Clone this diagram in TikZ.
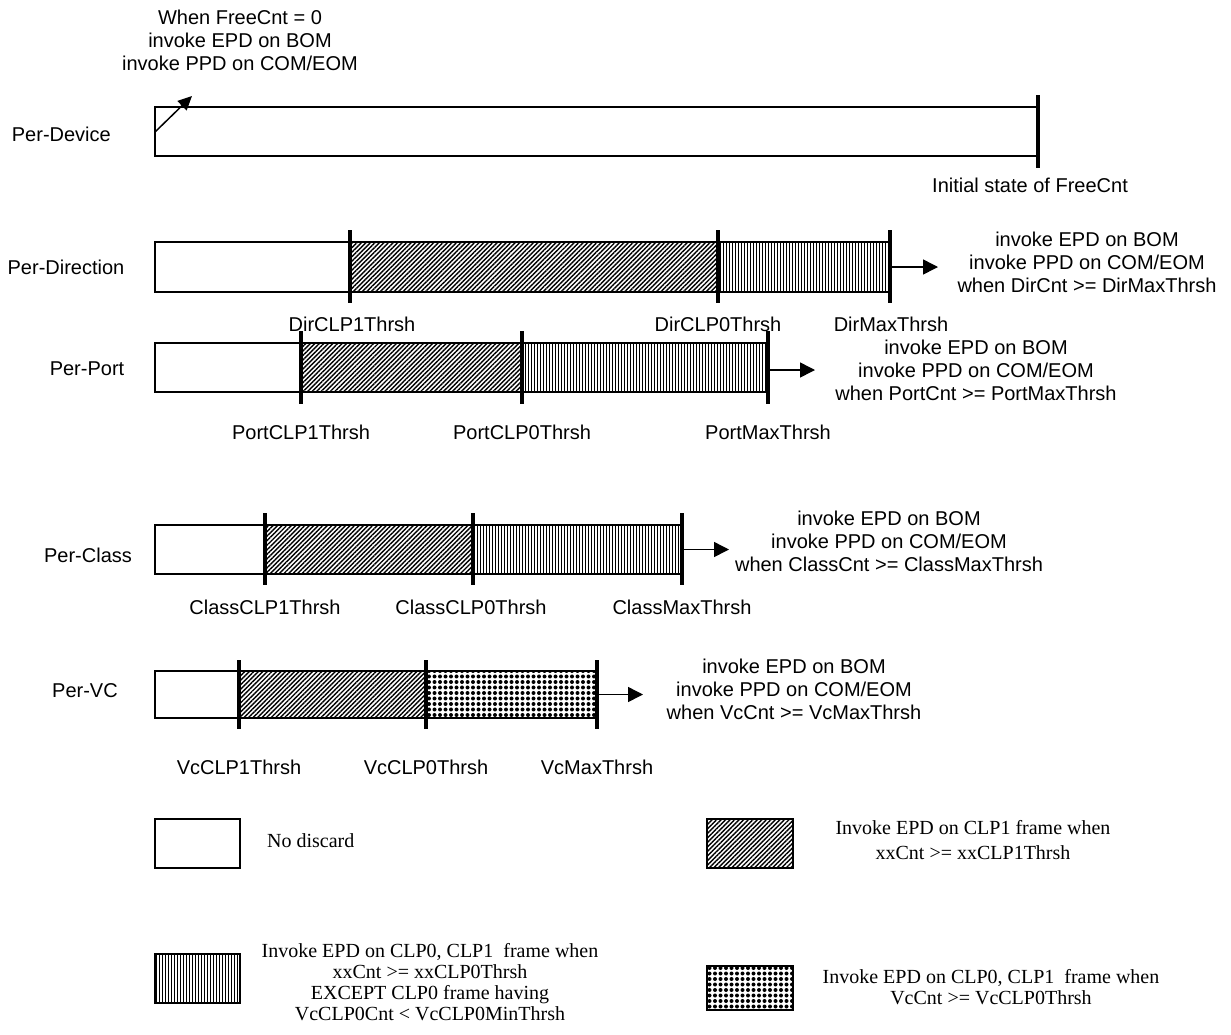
\documentclass[tikz,border=0pt]{standalone}
\usepackage{fontspec}
\setmainfont{Liberation Serif}
\newfontfamily\arialf{Liberation Sans}
\usetikzlibrary{patterns.meta,arrows.meta}
\begin{document}
\begin{tikzpicture}[x=1pt,y=-1pt,
  lbl/.style={font=\arialf\fontsize{20}{23}\selectfont, inner sep=0pt},
  note/.style={lbl, align=center, anchor=north},
  leg/.style={font=\fontsize{20}{21}\selectfont, inner sep=0pt, align=center, anchor=north},
  seg/.style={draw, line width=1.4pt},
  plain/.style={seg, fill=white},
  diag/.style={seg, pattern={Lines[angle=45,distance=3.2pt,line width=1.4pt]}},
  vert/.style={seg, pattern={Lines[angle=90,distance=3pt,line width=1pt]}},
  dotf/.style={seg, pattern={Dots[distance=5.5pt,radius=2pt]}},
  tick/.style={line width=4pt},
  arr/.style={line width=1.5pt, -{Triangle[length=15pt,width=15pt]}}
]
\fill[white] (0,0) rectangle (1231,1034);
\useasboundingbox (0,0) rectangle (1231,1034);

% ---------- Per-Device ----------
\node[note] (topnote) at (240,9.7) {When FreeCnt = 0\\invoke EPD on BOM\\invoke PPD on COM/EOM};
\node[lbl, anchor=base east] (pdev) at (111,141) {Per-Device};
\path[plain] (155,107) rectangle (1038,156);
\draw[tick] (1038,95) -- (1038,168);
\coordinate (devA) at (155,132);
\coordinate (devB) at (192,96);
\draw[arr, -{Triangle[length=14pt,width=13pt]}] (devA) -- (devB);
\node[lbl, anchor=base] (init) at (1030,192) {Initial state of FreeCnt};

% ---------- Per-Direction ----------
\node[lbl, anchor=base] (pdir) at (66,274) {Per-Direction};
\path[plain] (155,242) rectangle (350,292);
\path[diag] (350,242) rectangle (718,292);
\path[vert] (718,242) rectangle (890,292);
\foreach \x in {350,718,890} \draw[tick] (\x,230) -- (\x,303);
\node[lbl, anchor=base] (dir1) at (352,331) {DirCLP1Thrsh};
\node[lbl, anchor=base] (dir0) at (718,331) {DirCLP0Thrsh};
\node[lbl, anchor=base] (dirm) at (891,331) {DirMaxThrsh};
\coordinate (dirA) at (890,267);
\coordinate (dirB) at (938,267);
\draw[arr] (dirA) -- (dirB);
\node[note] (dirnote) at (1087,231.7) {invoke EPD on BOM\\invoke PPD on COM/EOM\\when DirCnt >= DirMaxThrsh};

% ---------- Per-Port ----------
\node[lbl, anchor=base] (pport) at (87,375) {Per-Port};
\path[plain] (155,343) rectangle (301,392);
\path[diag] (301,343) rectangle (522,392);
\path[vert] (522,343) rectangle (768,392);
\foreach \x in {301,522,768} \draw[tick] (\x,331) -- (\x,404);
\node[lbl, anchor=base] (port1) at (301,439) {PortCLP1Thrsh};
\node[lbl, anchor=base] (port0) at (522,439) {PortCLP0Thrsh};
\node[lbl, anchor=base] (portm) at (768,439) {PortMaxThrsh};
\coordinate (portA) at (768,370);
\coordinate (portB) at (815,370);
\draw[arr] (portA) -- (portB);
\node[note] (portnote) at (976,340) {invoke EPD on BOM\\invoke PPD on COM/EOM\\when PortCnt >= PortMaxThrsh};

% ---------- Per-Class ----------
\node[lbl, anchor=base] (pclass) at (88,562) {Per-Class};
\path[plain] (155,525) rectangle (265,574);
\path[diag] (265,525) rectangle (473,574);
\path[vert] (473,525) rectangle (682,574);
\foreach \x in {265,473,682} \draw[tick] (\x,513) -- (\x,585);
\node[lbl, anchor=base] (class1) at (265,614) {ClassCLP1Thrsh};
\node[lbl, anchor=base] (class0) at (471,614) {ClassCLP0Thrsh};
\node[lbl, anchor=base] (classm) at (682,614) {ClassMaxThrsh};
\coordinate (classA) at (682,549.5);
\coordinate (classB) at (729,549.5);
\draw[arr] (classA) -- (classB);
\node[note] (classnote) at (889,511) {invoke EPD on BOM\\invoke PPD on COM/EOM\\when ClassCnt >= ClassMaxThrsh};

% ---------- Per-VC ----------
\node[lbl, anchor=base] (pvc) at (85,697) {Per-VC};
\path[plain] (155,671) rectangle (239,718);
\path[diag] (239,671) rectangle (426,718);
\path[dotf] (426,671) rectangle (597,718);
\foreach \x in {239,426,597} \draw[tick] (\x,660) -- (\x,729);
\node[lbl, anchor=base] (vc1) at (239,774) {VcCLP1Thrsh};
\node[lbl, anchor=base] (vc0) at (426,774) {VcCLP0Thrsh};
\node[lbl, anchor=base] (vcm) at (597,774) {VcMaxThrsh};
\coordinate (vcA) at (597,694.5);
\coordinate (vcB) at (643,694.5);
\draw[arr] (vcA) -- (vcB);
\node[note] (vcnote) at (794,659.2) {invoke EPD on BOM\\invoke PPD on COM/EOM\\when VcCnt >= VcMaxThrsh};

% ---------- Legend ----------
\path[plain] (155,819) rectangle (240,868);
\node[font=\fontsize{20}{21}\selectfont, inner sep=0pt, anchor=base west] (lgnone) at (267,847) {No discard};

\path[diag] (707,819) rectangle (793,868);
\node[leg, font=\fontsize{20}{25}\selectfont] (lgdiag) at (973,820.3) {Invoke EPD on CLP1 frame when\\xxCnt >= xxCLP1Thrsh};

\path[vert] (155,954) rectangle (240,1003);
\node[leg] (lgvert) at (430,943.3) {Invoke EPD on CLP0, CLP1\ \ frame when\\xxCnt >= xxCLP0Thrsh\\EXCEPT CLP0 frame having\\VcCLP0Cnt < VcCLP0MinThrsh};

\path[dotf] (707,966) rectangle (793,1010);
\node[leg] (lgdots) at (991,969) {Invoke EPD on CLP0, CLP1\ \ frame when\\VcCnt >= VcCLP0Thrsh};
\end{tikzpicture}
\end{document}
